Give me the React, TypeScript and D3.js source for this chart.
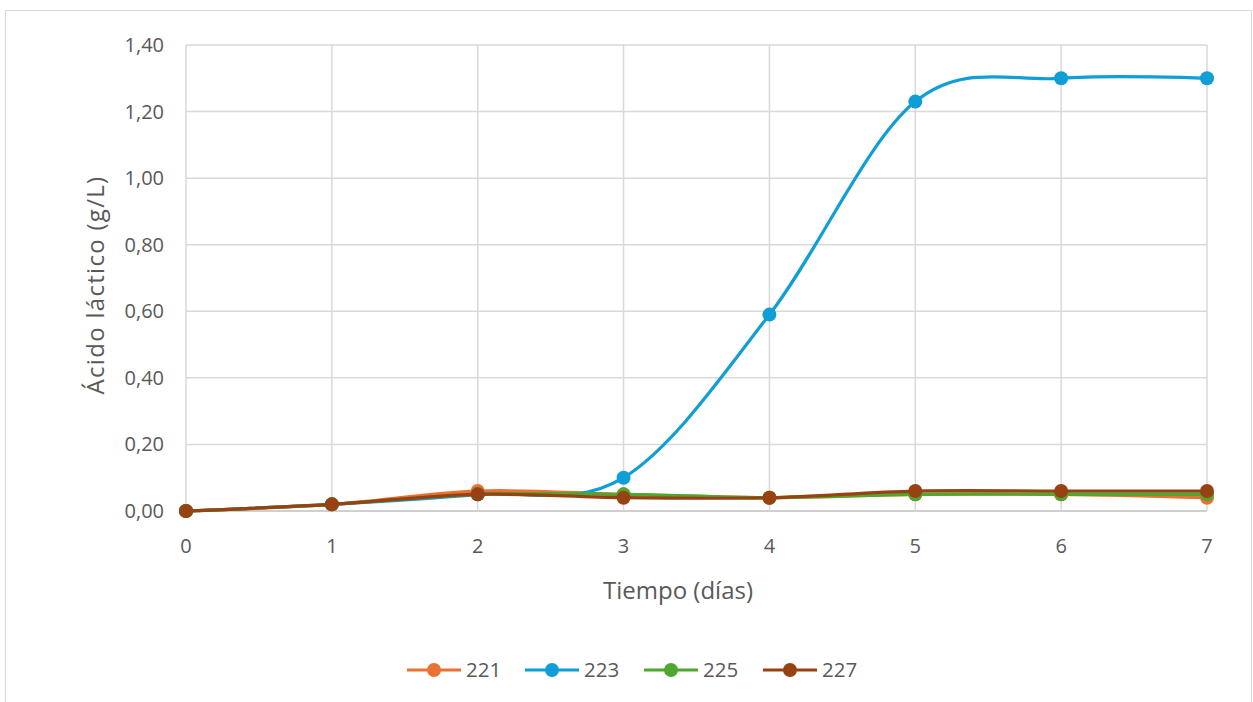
import React from "react";
import * as d3 from "d3";

const days = [0, 1, 2, 3, 4, 5, 6, 7];
const seriesNames = ["221", "223", "225", "227"];
const s221 = [0, 0.02, 0.06, 0.05, 0.04, 0.05, 0.05, 0.04];
const s223 = [0, 0.02, 0.05, 0.1, 0.59, 1.23, 1.3, 1.3];
const s225 = [0, 0.02, 0.05, 0.05, 0.04, 0.05, 0.05, 0.05];
const s227 = [0, 0.02, 0.05, 0.04, 0.04, 0.06, 0.06, 0.06];
const yTicks = [0, 0.2, 0.4, 0.6, 0.8, 1.0, 1.2, 1.4];
const colors = ["#E97132", "#0F9ED5", "#4EA72E", "#984213"];
const allSeries = [s221, s223, s225, s227];

export default function App() {
  const W = 1253, H = 702;
  const x = d3.scaleLinear().domain([0, 7]).range([186, 1207]);
  const y = d3.scaleLinear().domain([0, 1.4]).range([511, 45]);
  const line = d3
    .line<number>()
    .x((_, i) => x(days[i]))
    .y((v) => y(v))
    .curve(d3.curveCardinal.tension(0));
  const fmt = (v: number) => v.toFixed(2).replace(".", ",");
  const font = "'Open Sans', 'Liberation Sans', Arial, sans-serif";
  const legendX = [407, 525, 644, 763];
  const txt = "#595959";
  return (
    <svg width={W} height={H} style={{ position: "absolute", left: 0, top: 0 }} fontFamily={font}>
      <rect x={0} y={0} width={W} height={H} fill="#fff" />
      <rect x={5.5} y={10.5} width={1246} height={720} fill="#fff" stroke="#D9D9D9" />
      {yTicks.map((t) => (
        <line key={"h" + t} x1={186} x2={1207} y1={y(t)} y2={y(t)} stroke={t === 0 ? "#BFBFBF" : "#D9D9D9"} strokeWidth={1.5} />
      ))}
      {days.map((d) => (
        <line key={"v" + d} x1={x(d)} x2={x(d)} y1={45} y2={511} stroke="#D9D9D9" strokeWidth={1.5} />
      ))}
      {yTicks.map((t) => (
        <text key={"yt" + t} x={164} y={y(t)} dy="0.35em" textAnchor="end" fontSize={20} fill={txt}>
          {fmt(t)}
        </text>
      ))}
      {days.map((d) => (
        <text key={"xt" + d} x={x(d)} y={546} dy="0.35em" textAnchor="middle" fontSize={20} fill={txt}>
          {d}
        </text>
      ))}
      <text x={678} y={591} dy="0.35em" textAnchor="middle" fontSize={24} fill={txt}>
        Tiempo (días)
      </text>
      <text
        transform={`translate(96,285) rotate(-90)`}
        dy="0.35em"
        textAnchor="middle"
        fontSize={24}
        letterSpacing={1.3}
        fill={txt}
      >
        Ácido láctico (g/L)
      </text>
      {allSeries.map((s, k) => (
        <g key={"s" + k}>
          <path d={line(s) || ""} fill="none" stroke={colors[k]} strokeWidth={3.2} />
          {s.map((v, i) => (
            <circle key={i} cx={x(days[i])} cy={y(v)} r={7} fill={colors[k]} />
          ))}
        </g>
      ))}
      {seriesNames.map((n, k) => (
        <g key={"l" + n}>
          <line x1={legendX[k]} x2={legendX[k] + 54} y1={670} y2={670} stroke={colors[k]} strokeWidth={3.2} />
          <circle cx={legendX[k] + 27} cy={670} r={7} fill={colors[k]} />
          <text x={legendX[k] + 59} y={670} dy="0.35em" fontSize={20.5} fill={txt}>
            {n}
          </text>
        </g>
      ))}
    </svg>
  );
}
